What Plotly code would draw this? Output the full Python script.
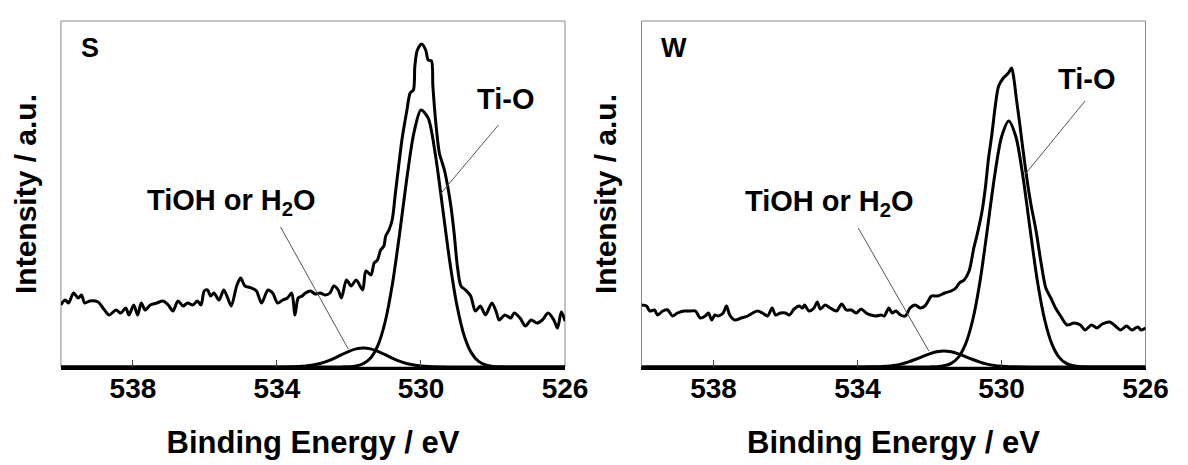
import plotly.graph_objects as go

# ---------------- data (binding energy in eV, intensity in a.u.) ----------------
S_env_E = [540.00, 539.97, 539.88, 539.79, 539.65, 539.52, 539.43, 539.34, 539.20, 538.97,
           538.79, 538.66, 538.47, 538.34, 538.20, 538.11, 537.98, 537.87, 537.77, 537.66,
           537.52, 537.34, 537.16, 537.02, 536.89, 536.75, 536.61, 536.48, 536.34, 536.21,
           536.11, 536.02, 535.93, 535.84, 535.75, 535.61, 535.48, 535.39, 535.27, 535.12,
           535.01, 534.89, 534.71, 534.57, 534.43, 534.25, 534.12, 533.98, 533.84, 533.71,
           533.59, 533.50, 533.41, 533.30, 533.21, 533.07, 532.94, 532.80, 532.66, 532.53,
           532.42, 532.30, 532.21, 532.07, 531.94, 531.80, 531.62, 531.53, 531.39, 531.30,
           531.21, 531.12, 531.03, 530.98, 530.89, 530.80, 530.71, 530.62, 530.53, 530.39,
           530.30, 530.21, 530.17, 530.10, 529.98, 529.87, 529.80, 529.71, 529.67, 529.58,
           529.49, 529.35, 529.26, 529.17, 529.08, 528.99, 528.89, 528.76, 528.62, 528.49,
           528.35, 528.21, 528.03, 527.90, 527.83, 527.67, 527.51, 527.41, 527.25, 527.10,
           526.94, 526.78, 526.63, 526.47, 526.31, 526.21, 526.10, 526.00]
S_env_I = [62, 64, 67, 64, 74, 69, 72, 64, 66, 65,
           57, 52, 57, 54, 59, 52, 62, 52, 64, 57,
           62, 64, 66, 62, 56, 66, 61, 64, 62, 66,
           62, 76, 77, 71, 74, 67, 77, 71, 61, 81,
           89, 81, 79, 76, 64, 77, 74, 64, 67, 69,
           74, 52, 69, 71, 74, 76, 73, 74, 72, 74,
           81, 77, 69, 87, 81, 87, 77, 96, 92, 104,
           107, 117, 121, 131, 137, 147, 174, 201, 227, 257,
           274, 277, 301, 317, 323, 317, 307, 306, 281, 241,
           214, 197, 181, 161, 134, 101, 81, 77, 71, 56,
           61, 52, 64, 54, 47, 52, 49, 54, 49, 41,
           47, 44, 47, 54, 47, 39, 55, 46]

S_TiO_E = [540.0, 532.6, 532.4, 532.2, 532.0, 531.8, 531.6, 531.4, 531.2, 531.0, 530.8, 530.6,
           530.4, 530.2, 530.0, 529.8, 529.6, 529.4, 529.2, 529.0, 528.8, 528.6, 528.4,
           528.2, 528.0, 527.8, 527.6, 526.0]
S_TiO_I = [0, 0, 0, 0.1, 0.3, 1.1, 3.4, 9.0, 21.4, 44.5, 81.5, 131.6,
           186.8, 233.5, 257, 248.9, 212.2, 159.3, 105.2, 61.2, 31.3, 14.1, 5.6,
           2.0, 0.6, 0.2, 0, 0]

S_OH_E = [540.0, 534.2, 534.0, 533.6, 533.4, 533.2, 533.0, 532.8, 532.6, 532.4, 532.2, 532.0,
          531.8, 531.6, 531.4, 531.2, 531.0, 530.8, 530.6, 530.4, 530.2, 530.0, 529.8,
          529.6, 529.2, 526.0]
S_OH_I = [0, 0, 0, 0.2, 0.4, 0.9, 1.9, 3.5, 5.8, 8.9, 12.4, 15.7,
          18.1, 19, 18.1, 15.7, 12.4, 8.9, 5.8, 3.5, 1.9, 0.9, 0.4,
          0.2, 0, 0]

W_env_E = [540.00, 539.86, 539.77, 539.64, 539.55, 539.41, 539.27, 539.14, 539.00, 538.82,
           538.64, 538.50, 538.37, 538.23, 538.14, 538.05, 537.96, 537.87, 537.73, 537.64,
           537.55, 537.41, 537.23, 537.05, 536.91, 536.78, 536.64, 536.50, 536.37, 536.28,
           536.14, 536.00, 535.89, 535.76, 535.62, 535.53, 535.47, 535.35, 535.21, 535.12,
           535.03, 534.90, 534.76, 534.58, 534.44, 534.31, 534.17, 534.03, 533.90, 533.76,
           533.63, 533.49, 533.35, 533.26, 533.13, 533.04, 532.93, 532.81, 532.67, 532.54,
           532.40, 532.26, 532.13, 531.99, 531.95, 531.77, 531.58, 531.40, 531.27, 531.17,
           531.04, 530.90, 530.77, 530.68, 530.54, 530.45, 530.36, 530.27, 530.17, 530.08,
           529.95, 529.81, 529.72, 529.66, 529.59, 529.49, 529.40, 529.27, 529.18, 529.04,
           528.91, 528.77, 528.63, 528.50, 528.36, 528.18, 527.99, 527.81, 527.68, 527.50,
           527.35, 527.20, 526.99, 526.84, 526.69, 526.53, 526.38, 526.22, 526.12, 526.00]
W_env_I = [62, 61, 56, 57, 52, 56, 57, 51, 54, 56,
           56, 56, 49, 51, 54, 47, 52, 51, 54, 61,
           52, 47, 49, 51, 54, 56, 54, 51, 59, 52,
           54, 54, 52, 58, 61, 59, 62, 56, 59, 65,
           58, 62, 59, 56, 63, 57, 57, 54, 58, 54,
           52, 51, 52, 51, 59, 54, 56, 52, 51, 59,
           62, 59, 61, 69, 71, 71, 74, 76, 79, 84,
           87, 96, 119, 132, 156, 179, 209, 232, 262, 281,
           289, 294, 299, 289, 269, 242, 216, 182, 162, 136,
           106, 79, 69, 59, 51, 42, 44, 42, 37, 42,
           39, 43, 45, 41, 37, 41, 37, 40, 37, 39]

W_TiO_E = [540.0, 532.4, 532.2, 532.0, 531.8, 531.6, 531.4, 531.2, 531.0, 530.8, 530.6, 530.4,
           530.2, 530.0, 529.8, 529.6, 529.4, 529.2, 529.0, 528.8, 528.6, 528.4, 528.2,
           528.0, 527.8, 527.6, 527.4, 526.0]
W_TiO_I = [0, 0, 0, 0.1, 0.3, 1.2, 3.6, 9.6, 22.8, 47, 85, 136,
           189, 230, 246, 230, 189, 136, 85, 47, 22.8, 9.6, 3.6,
           1.2, 0.3, 0.1, 0, 0]

W_OH_E = S_OH_E
W_OH_I = [0, 0, 0, 0.2, 0.3, 0.8, 1.6, 2.9, 4.9, 7.5, 10.4, 13.2,
          15.2, 16, 15.2, 13.2, 10.4, 7.5, 4.9, 2.9, 1.6, 0.8, 0.3,
          0.2, 0, 0]

x_ticks = [538, 534, 530, 526]
panel_names = ["S", "W"]

# ---------------- figure ----------------
FW, FH = 1188, 465
domains = [[54 / FW, 568 / FW], [646 / FW, 1160 / FW]]
YMAX = 346

fig = go.Figure()
panels = [
    (S_env_E, S_env_I, S_TiO_E, S_TiO_I, S_OH_E, S_OH_I),
    (W_env_E, W_env_I, W_TiO_E, W_TiO_I, W_OH_E, W_OH_I),
]
for k, (eE, eI, tE, tI, oE, oI) in enumerate(panels):
    xa = "x" if k == 0 else "x2"
    ya = "y" if k == 0 else "y2"
    for xs, ys in ((oE, oI), (tE, tI), (eE, eI)):
        fig.add_trace(go.Scatter(x=xs, y=ys, mode="lines", xaxis=xa, yaxis=ya,
                                 line=dict(color="black", width=3, shape="spline", smoothing=0.8),
                                 showlegend=False, hoverinfo="skip"))

font_fam = "Liberation Sans, Arial, sans-serif"
for k in range(2):
    sx = "" if k == 0 else "2"
    fig.update_layout(**{
        f"xaxis{sx}": dict(domain=domains[k], range=[540, 526], tickvals=x_ticks,
                           ticktext=[str(t) for t in x_ticks], ticks="inside", ticklen=7,
                           tickwidth=1, tickcolor="#444", showline=True, linecolor="black",
                           linewidth=3, mirror=False, showgrid=False, zeroline=False,
                           anchor="y" if k == 0 else "y2", ticklabelstandoff=-6,
                           tickfont=dict(family=font_fam, size=28, color="black", weight="bold"),
                           title=dict(text="Binding Energy / eV", standoff=29,
                                      font=dict(family=font_fam, size=31, color="black", weight="bold"))),
        f"yaxis{sx}": dict(domain=[0, 1], range=[0, YMAX], showticklabels=False, ticks="",
                           showline=False, showgrid=False, zeroline=False,
                           anchor="x" if k == 0 else "x2",
                           title=dict(text="Intensity / a.u.", standoff=14,
                                      font=dict(family=font_fam, size=30, color="black", weight="bold"))),
    })
    # frame
    fig.add_shape(type="rect", xref=f"x{sx} domain", yref=f"y{sx} domain", x0=0, x1=1, y0=0, y1=1,
                  line=dict(color="#888", width=1), layer="below")

# annotation label anchors (text centre) and leader lines (from, to) in data coords
ann = [
    # panel, text, tx, ty, line x0, y0, x1, y1
    (0, "Ti-O", 527.66, 268, 527.85, 242, 529.46, 173),
    (0, "TiOH or H<sub>2</sub>O", 535.26, 165, 533.90, 140, 532.02, 18),
    (1, "Ti-O", 527.63, 288, 527.68, 266, 529.36, 192),
    (1, "TiOH or H<sub>2</sub>O", 534.77, 164, 533.98, 139, 532.02, 16),
]
for k, txt, tx, ty, lx0, ly0, lx1, ly1 in ann:
    sx = "" if k == 0 else "2"
    fig.add_annotation(x=tx, y=ty, xref=f"x{sx}", yref=f"y{sx}", text=txt, showarrow=False,
                       xanchor="center", yanchor="middle",
                       font=dict(family=font_fam, size=29, color="black", weight="bold"))
    fig.add_shape(type="line", xref=f"x{sx}", yref=f"y{sx}", x0=lx0, y0=ly0, x1=lx1, y1=ly1,
                  line=dict(color="#555", width=1))

for k, name in enumerate(panel_names):
    sx = "" if k == 0 else "2"
    fig.add_annotation(x=0.035, y=319, xref=f"x{sx} domain", yref=f"y{sx}", text=name, showarrow=False,
                       xanchor="left", yanchor="middle",
                       font=dict(family=font_fam, size=27, color="black", weight="bold"))

fig.update_layout(width=FW, height=FH, margin=dict(l=0, r=0, t=13, b=106),
                  paper_bgcolor="white", plot_bgcolor="white")
fig.write_html("out.html")
